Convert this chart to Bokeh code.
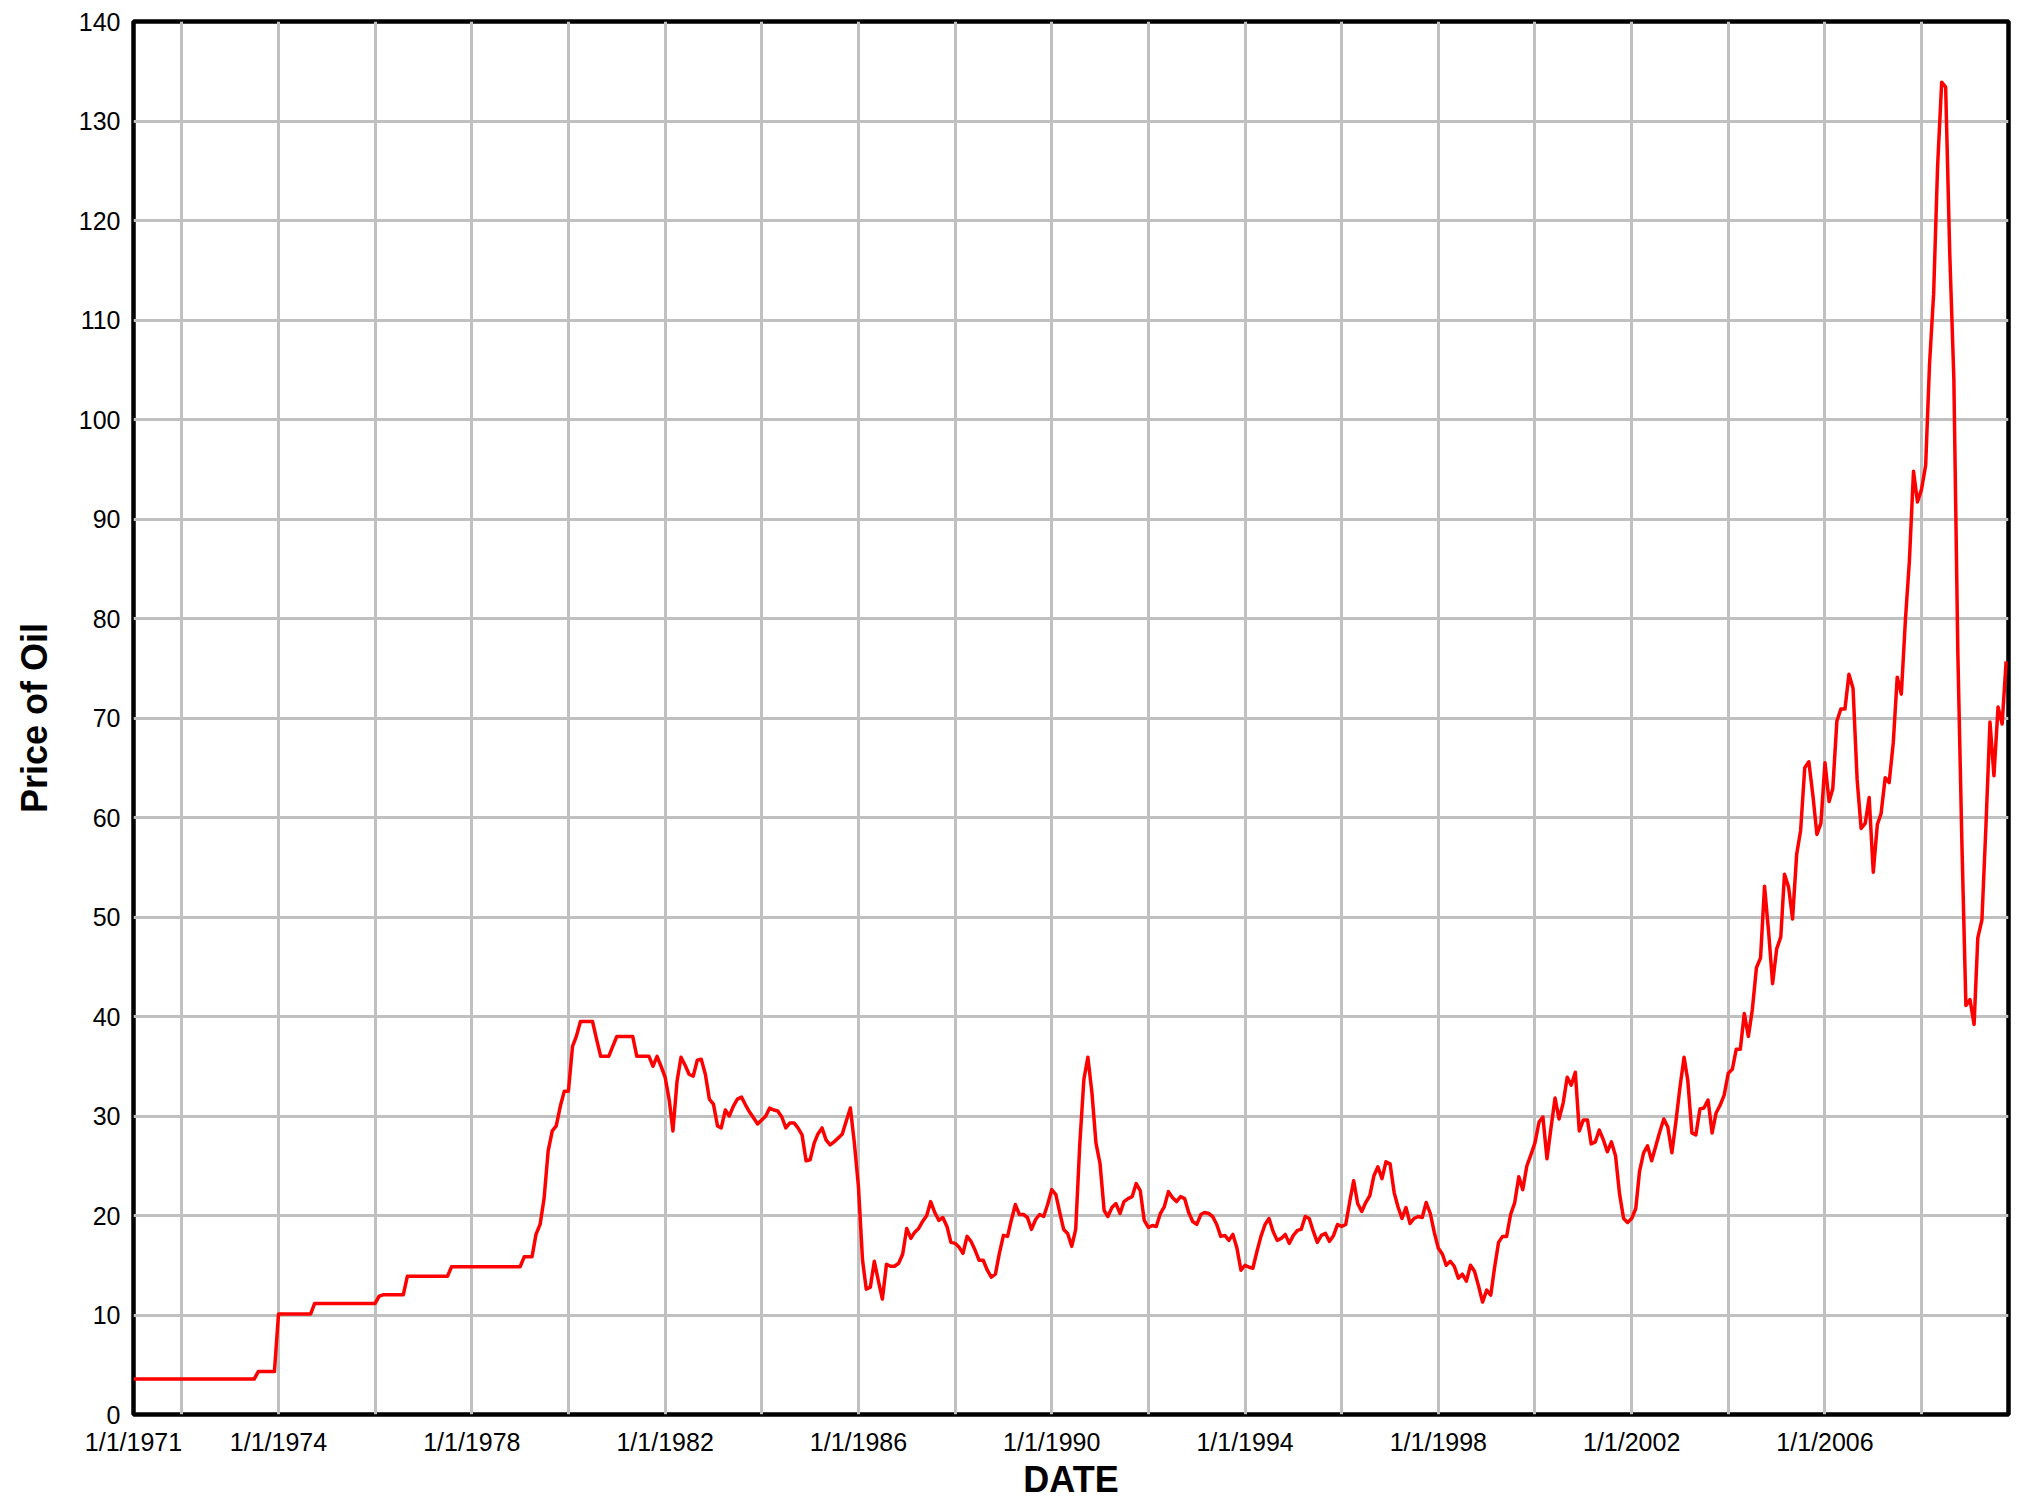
import pandas as pd
from bokeh.plotting import figure
from bokeh.models import Range1d, FixedTicker, CustomJSTickFormatter
from bokeh.embed import file_html
from bokeh.resources import INLINE

# ---- data: monthly price of oil (Jan 1971 .. Oct 2009)
first_month = "1971-01-01"
p1971 = [3.56, 3.56, 3.56, 3.56, 3.56, 3.56, 3.56, 3.56, 3.56, 3.56, 3.56, 3.56]
p1972 = [3.56, 3.56, 3.56, 3.56, 3.56, 3.56, 3.56, 3.56, 3.56, 3.56, 3.56, 3.56]
p1973 = [3.56, 3.56, 3.56, 3.56, 3.56, 3.56, 3.56, 4.31, 4.31, 4.31, 4.31, 4.31]
p1974 = [10.11, 10.11, 10.11, 10.11, 10.11, 10.11, 10.11, 10.11, 10.11, 11.16, 11.16, 11.16]
p1975 = [11.16, 11.16, 11.16, 11.16, 11.16, 11.16, 11.16, 11.16, 11.16, 11.16, 11.16, 11.16]
p1976 = [11.16, 11.9, 12.03, 12.03, 12.03, 12.03, 12.03, 12.03, 13.9, 13.9, 13.9, 13.9]
p1977 = [13.9, 13.9, 13.9, 13.9, 13.9, 13.9, 13.9, 14.85, 14.85, 14.85, 14.85, 14.85]
p1978 = [14.85, 14.85, 14.85, 14.85, 14.85, 14.85, 14.85, 14.85, 14.85, 14.85, 14.85, 14.85]
p1979 = [14.85, 15.85, 15.85, 15.85, 18.1, 19.1, 21.7, 26.5, 28.5, 29.0, 31.0, 32.5]
p1980 = [32.5, 37.0, 38.0, 39.5, 39.5, 39.5, 39.5, 37.7, 36.0, 36.0, 36.0, 37.0]
p1981 = [38.0, 38.0, 38.0, 38.0, 38.0, 36.0, 36.0, 36.0, 36.0, 35.0, 36.0, 35.0]
p1982 = [33.9, 31.6, 28.5, 33.5, 35.9, 35.1, 34.2, 34.0, 35.6, 35.7, 34.2, 31.7]
p1983 = [31.2, 29.0, 28.8, 30.6, 30.0, 31.0, 31.7, 31.9, 31.1, 30.4, 29.8, 29.2]
p1984 = [29.6, 30.0, 30.8, 30.6, 30.5, 29.9, 28.8, 29.3, 29.3, 28.8, 28.1, 25.5]
p1985 = [25.6, 27.3, 28.2, 28.8, 27.6, 27.1, 27.4, 27.8, 28.2, 29.5, 30.8, 27.3]
p1986 = [22.9, 15.5, 12.6, 12.8, 15.4, 13.4, 11.6, 15.1, 14.9, 14.9, 15.2, 16.1]
p1987 = [18.7, 17.7, 18.3, 18.7, 19.4, 20.0, 21.4, 20.3, 19.5, 19.8, 18.9, 17.3]
p1988 = [17.2, 16.8, 16.2, 17.9, 17.4, 16.5, 15.5, 15.5, 14.5, 13.8, 14.1, 16.2]
p1989 = [18.0, 17.9, 19.5, 21.1, 20.1, 20.1, 19.8, 18.6, 19.6, 20.1, 19.9, 21.1]
p1990 = [22.6, 22.1, 20.4, 18.6, 18.2, 16.9, 18.6, 27.2, 33.7, 35.9, 32.3, 27.3]
p1991 = [25.2, 20.5, 19.9, 20.8, 21.2, 20.2, 21.4, 21.7, 21.9, 23.2, 22.5, 19.5]
p1992 = [18.8, 19.0, 18.9, 20.2, 20.9, 22.4, 21.8, 21.4, 21.9, 21.7, 20.3, 19.4]
p1993 = [19.1, 20.1, 20.3, 20.2, 19.9, 19.1, 17.9, 18.0, 17.5, 18.1, 16.7, 14.5]
p1994 = [15.0, 14.8, 14.7, 16.4, 17.9, 19.1, 19.7, 18.4, 17.5, 17.7, 18.1, 17.2]
p1995 = [18.0, 18.5, 18.6, 19.9, 19.7, 18.4, 17.3, 18.0, 18.2, 17.4, 18.0, 19.1]
p1996 = [18.9, 19.1, 21.3, 23.5, 21.2, 20.4, 21.3, 22.0, 24.0, 24.9, 23.7, 25.4]
p1997 = [25.2, 22.3, 20.9, 19.7, 20.8, 19.2, 19.7, 19.9, 19.8, 21.3, 20.2, 18.3]
p1998 = [16.7, 16.1, 15.0, 15.4, 14.9, 13.7, 14.1, 13.4, 15.0, 14.4, 12.9, 11.3]
p1999 = [12.5, 12.0, 14.7, 17.3, 17.9, 17.9, 20.1, 21.3, 23.9, 22.6, 25.0, 26.1]
p2000 = [27.3, 29.4, 29.9, 25.7, 28.8, 31.8, 29.7, 31.3, 33.9, 33.1, 34.4, 28.5]
p2001 = [29.6, 29.6, 27.2, 27.4, 28.6, 27.6, 26.4, 27.4, 26.0, 22.2, 19.7, 19.3]
p2002 = [19.7, 20.7, 24.4, 26.3, 27.0, 25.5, 26.9, 28.4, 29.7, 28.9, 26.3, 29.4]
p2003 = [32.9, 35.9, 33.6, 28.3, 28.1, 30.7, 30.8, 31.6, 28.3, 30.3, 31.1, 32.1]
p2004 = [34.3, 34.7, 36.7, 36.7, 40.3, 38.0, 40.7, 44.9, 45.9, 53.1, 48.5, 43.3]
p2005 = [46.8, 48.0, 54.3, 53.0, 49.8, 56.3, 58.7, 65.0, 65.6, 62.3, 58.3, 59.4]
p2006 = [65.5, 61.6, 62.9, 69.7, 70.9, 70.9, 74.4, 73.0, 63.8, 58.9, 59.4, 62.0]
p2007 = [54.5, 59.3, 60.4, 64.0, 63.5, 67.5, 74.1, 72.4, 79.9, 85.8, 94.8, 91.7]
p2008 = [93.0, 95.4, 105.5, 112.6, 125.4, 133.9, 133.4, 116.7, 104.1, 76.6, 57.3, 41.1]
p2009 = [41.7, 39.2, 47.9, 49.7, 59.0, 69.6, 64.2, 71.1, 69.4, 75.7]

prices = (p1971 + p1972 + p1973 + p1974 + p1975 + p1976 + p1977 + p1978 + p1979 +
          p1980 + p1981 + p1982 + p1983 + p1984 + p1985 + p1986 + p1987 + p1988 +
          p1989 + p1990 + p1991 + p1992 + p1993 + p1994 + p1995 + p1996 + p1997 +
          p1998 + p1999 + p2000 + p2001 + p2002 + p2003 + p2004 + p2005 + p2006 +
          p2007 + p2008 + p2009)
dates = pd.date_range(first_month, periods=len(prices), freq="MS")

x_label_dates = ["1971-01-01", "1974-01-01", "1978-01-01", "1982-01-01", "1986-01-01",
                 "1990-01-01", "1994-01-01", "1998-01-01", "2002-01-01", "2006-01-01"]
x_grid_dates = ["1972-01-01", "1974-01-01", "1976-01-01", "1978-01-01", "1980-01-01",
                "1982-01-01", "1984-01-01", "1986-01-01", "1988-01-01", "1990-01-01",
                "1992-01-01", "1994-01-01", "1996-01-01", "1998-01-01", "2000-01-01",
                "2002-01-01", "2004-01-01", "2006-01-01", "2008-01-01"]
y_ticks = [0, 10, 20, 30, 40, 50, 60, 70, 80, 90, 100, 110, 120, 130, 140]
x_start = "1971-01-01"
x_end = "2009-10-19"


def ms(s):
    return pd.Timestamp(s).value / 1e6


FONT = "Liberation Sans"

p = figure(width=2025, height=1502, x_axis_type="datetime",
           x_range=Range1d(ms(x_start) - 3.6e6, ms(x_end)),
           y_range=Range1d(0, 140),
           output_backend="svg", toolbar_location=None,
           min_border_left=133, min_border_right=17,
           min_border_top=21, min_border_bottom=88,
           background_fill_color="white", border_fill_color="white")

p.outline_line_color = "black"
p.outline_line_width = 4.5

p.line(dates, prices, line_color="#ff0000", line_width=3.5, line_join="round")

# axes
xa = p.xaxis[0]
xa.ticker = FixedTicker(ticks=[ms(d) for d in x_label_dates])
xa.formatter = CustomJSTickFormatter(code="""
    const d = new Date(tick);
    return (d.getUTCMonth() + 1) + "/" + d.getUTCDate() + "/" + d.getUTCFullYear();
""")
xa.axis_label = "DATE"
ya = p.yaxis[0]
ya.ticker = FixedTicker(ticks=y_ticks)
ya.axis_label = "Price of Oil"

for ax in (xa, ya):
    ax.axis_line_color = None
    ax.major_tick_line_color = None
    ax.minor_tick_line_color = None
    ax.major_tick_out = 0
    ax.major_tick_in = 0
    ax.major_label_text_font = FONT
    ax.major_label_text_font_size = "25px"
    ax.major_label_text_color = "black"
    ax.axis_label_text_font = FONT
    ax.axis_label_text_font_size = "36px"
    ax.axis_label_text_font_style = "bold"
    ax.axis_label_text_color = "black"

xa.major_label_standoff = 13
xa.axis_label_standoff = 0
ya.major_label_standoff = 13
ya.axis_label_standoff = 21

# grids
p.xgrid[0].ticker = FixedTicker(ticks=[ms(d) for d in x_grid_dates])
p.ygrid[0].ticker = FixedTicker(ticks=y_ticks)
for g in (p.xgrid[0], p.ygrid[0]):
    g.grid_line_color = "#c0c0c0"
    g.grid_line_width = 3

open("out.html", "w").write(file_html(p, INLINE))
